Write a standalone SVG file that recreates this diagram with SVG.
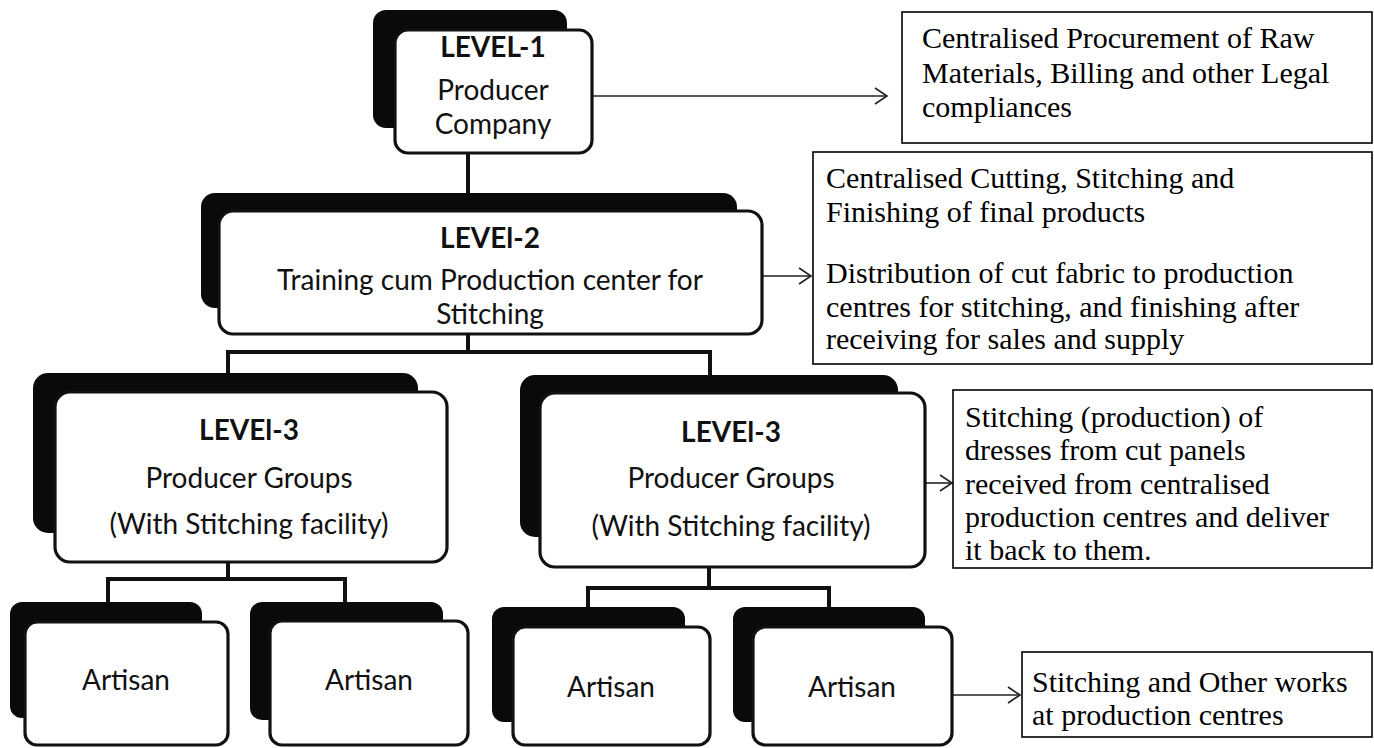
<svg xmlns="http://www.w3.org/2000/svg" width="1374" height="748" viewBox="0 0 1374 748">
<defs>
<marker id="ah" markerUnits="userSpaceOnUse" markerWidth="16" markerHeight="18" refX="13" refY="9" orient="auto">
<path d="M1,1 L13,9 L1,17" fill="none" stroke="#222" stroke-width="1.6"/>
</marker>
<style>
.shadow{fill:#0a0a0a;}
.card{fill:#fff;stroke:#111;stroke-width:3.2;}
.t{font-family:Lato,"Liberation Sans",sans-serif;font-size:28px;fill:#111;text-anchor:middle;}
.b{font-weight:bold;}
.note{font-family:"Liberation Serif","Times New Roman",serif;font-size:30px;fill:#000;}
.nbox{fill:#fff;stroke:#000;stroke-width:1.6;}
.conn{stroke:#111;stroke-width:4;fill:none;}
.arr{stroke:#222;stroke-width:1.6;fill:none;marker-end:url(#ah);}
</style>
</defs>
<rect width="1374" height="748" fill="#fff"/>

<g id="connectors">
<line class="conn" x1="468" y1="150" x2="468" y2="196"/>
<path class="conn" d="M468,332 V352 M228,375 V352 H710 V377"/>
<path class="conn" d="M228,560 V579 M108,604 V579 H345 V604"/>
<path class="conn" d="M709,565 V588 M588,609 V588 H829 V609"/>
<line class="arr" x1="592" y1="96" x2="887" y2="96"/>
<line class="arr" x1="762" y1="276" x2="811" y2="276"/>
<line class="arr" x1="924" y1="483" x2="952" y2="483"/>
<line class="arr" x1="952" y1="695" x2="1020" y2="695"/>
</g>

<g id="level1">
<rect class="shadow" x="373" y="10" width="194" height="118" rx="13"/>
<rect class="card" x="395" y="30" width="197" height="123" rx="13"/>
<text class="t b" x="493" y="57">LEVEL-1</text>
<text class="t" x="493" y="100">Producer</text>
<text class="t" x="493" y="134">Company</text>
</g>

<g id="level2">
<rect class="shadow" x="201" y="193" width="536" height="115" rx="14"/>
<rect class="card" x="219" y="211" width="543" height="123" rx="14"/>
<text class="t b" x="490" y="248">LEVEl-2</text>
<text class="t" x="490" y="290">Training cum Production center for</text>
<text class="t" x="490" y="324">Stitching</text>
</g>

<g id="level3a">
<rect class="shadow" x="33" y="373" width="385" height="160" rx="15"/>
<rect class="card" x="55" y="392" width="392" height="170" rx="15"/>
<text class="t b" x="249" y="440">LEVEl-3</text>
<text class="t" x="249" y="488">Producer Groups</text>
<text class="t" x="249" y="534">(With Stitching facility)</text>
</g>

<g id="level3b">
<rect class="shadow" x="520" y="375" width="378" height="162" rx="15"/>
<rect class="card" x="540" y="393" width="385" height="174" rx="15"/>
<text class="t b" x="731" y="442">LEVEl-3</text>
<text class="t" x="731" y="488">Producer Groups</text>
<text class="t" x="731" y="536">(With Stitching facility)</text>
</g>

<g id="artisan1">
<rect class="shadow" x="10" y="602" width="192" height="116" rx="12"/>
<rect class="card" x="25" y="622" width="203" height="123" rx="12"/>
<text class="t" x="126" y="690">Artisan</text>
</g>
<g id="artisan2">
<rect class="shadow" x="250" y="602" width="193" height="118" rx="12"/>
<rect class="card" x="270" y="621" width="198" height="124" rx="12"/>
<text class="t" x="369" y="690">Artisan</text>
</g>
<g id="artisan3">
<rect class="shadow" x="492" y="607" width="193" height="115" rx="12"/>
<rect class="card" x="513" y="627" width="197" height="118" rx="12"/>
<text class="t" x="611" y="697">Artisan</text>
</g>
<g id="artisan4">
<rect class="shadow" x="733" y="607" width="192" height="115" rx="12"/>
<rect class="card" x="753" y="627" width="199" height="118" rx="12"/>
<text class="t" x="852" y="697">Artisan</text>
</g>

<g id="note1">
<rect class="nbox" x="902" y="12" width="470" height="131"/>
<text class="note" x="922" y="48">Centralised Procurement of Raw</text>
<text class="note" x="922" y="83">Materials, Billing and other Legal</text>
<text class="note" x="922" y="117">compliances</text>
</g>

<g id="note2">
<rect class="nbox" x="813" y="152" width="559" height="212"/>
<text class="note" x="826" y="188">Centralised Cutting, Stitching and</text>
<text class="note" x="826" y="222">Finishing of final products</text>
<text class="note" x="826" y="283">Distribution of cut fabric to production</text>
<text class="note" x="826" y="317">centres for stitching, and finishing after</text>
<text class="note" x="826" y="349">receiving for sales and supply</text>
</g>

<g id="note3">
<rect class="nbox" x="953" y="390" width="419" height="178"/>
<text class="note" x="965" y="427">Stitching (production) of</text>
<text class="note" x="965" y="460">dresses from cut panels</text>
<text class="note" x="965" y="494">received from centralised</text>
<text class="note" x="965" y="527">production centres and deliver</text>
<text class="note" x="965" y="560">it back to them.</text>
</g>

<g id="note4">
<rect class="nbox" x="1022" y="652" width="350" height="85"/>
<text class="note" x="1032" y="692">Stitching and Other works</text>
<text class="note" x="1032" y="725">at production centres</text>
</g>
</svg>
